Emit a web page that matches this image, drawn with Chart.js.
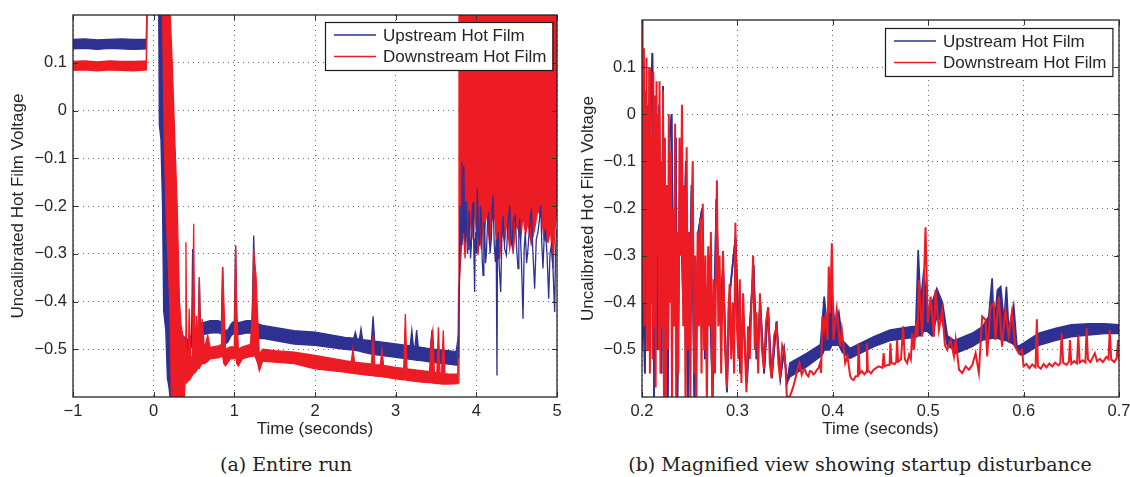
<!DOCTYPE html>
<html>
<head>
<meta charset="utf-8">
<script src="https://cdn.jsdelivr.net/npm/chart.js@4.4.0/dist/chart.umd.min.js"></script>
<style>
  body { margin: 0; background: #fff; width: 1130px; height: 477px; overflow: hidden; position: relative; }
  .panel { position: absolute; top: 0; height: 445px; }
  #left { left: 0; width: 570px; }
  #right { left: 570px; width: 560px; }
  .caption { position: absolute; top: 451px; font-family: "DejaVu Serif", serif; font-size: 19px; line-height: 26px; color: #222; white-space: nowrap; transform: translateX(-50%); }
</style>
</head>
<body>
<div class="panel" id="left"><canvas id="fullRun"></canvas></div>
<div class="panel" id="right"><canvas id="zoomRun"></canvas></div>
<div class="caption" style="left:286px">(a) Entire run</div>
<div class="caption" style="left:860px">(b) Magnified view showing startup disturbance</div>
<script>
const seriesNames = ["Upstream Hot Film", "Downstream Hot Film"];

// tick values
const fullXTicks = [-1, 0, 1, 2, 3, 4, 5];
const zoomXTicks = [0.2, 0.3, 0.4, 0.5, 0.6, 0.7];
const yTicks = [-0.5, -0.4, -0.3, -0.2, -0.1, 0, 0.1];

// (a) entire run - upstream, min/max envelope (null = same as min)
const fullUpT = [
  -1.00, -0.85, -0.70, -0.55, -0.40, -0.25, -0.09, -0.08, 0.06, 0.07,
  0.09, 0.11, 0.124, 0.15, 0.17, 0.19, 0.215, 0.25, 0.30, 0.35,
  0.42, 0.45, 0.47, 0.483, 0.495, 0.52, 0.55, 0.566, 0.58, 0.60,
  0.70, 0.80, 0.84, 0.855, 0.87, 0.88, 0.92, 0.96, 1.00, 1.016,
  1.03, 1.04, 1.15, 1.22, 1.24, 1.26, 1.27, 1.35, 1.74, 2.00,
  2.37, 2.48, 2.50, 2.52, 2.55, 2.57, 2.59, 2.70, 2.72, 2.74,
  3.00, 3.18, 3.20, 3.22, 3.24, 3.26, 3.28, 3.32, 3.43, 3.45,
  3.47, 3.65, 3.75, 3.77, 3.78
];
const fullUpLo = [
  0.129, 0.130, 0.128, 0.130, 0.129, 0.128, 0.129, 0.30, 0.30, -0.03,
  -0.06, -0.20, -0.42, -0.46, -0.56, -0.58, -0.62, -0.60, -0.57, -0.56,
  -0.50, -0.50, -0.495, -0.495, -0.49, -0.488, -0.485, -0.48, -0.478, -0.47,
  -0.466, -0.465, -0.468, -0.47, -0.485, -0.49, -0.485, -0.472, -0.466, -0.466,
  -0.47, -0.47, -0.466, -0.466, -0.47, -0.475, -0.478, -0.477, -0.489, -0.492,
  -0.50, -0.502, -0.503, -0.503, -0.504, -0.505, -0.506, -0.51, -0.51, -0.511,
  -0.517, -0.521, -0.521, -0.522, -0.522, -0.523, -0.523, -0.524, -0.527, -0.527,
  -0.528, -0.531, -0.533, -0.533, -0.53
];
const fullUpHi = [
  0.149, 0.150, 0.148, 0.149, 0.150, 0.149, 0.149, null, null, 0.30,
  0.30, 0.30, 0.25, 0.00, -0.20, -0.38, -0.45, -0.47, -0.47, -0.47,
  -0.48, -0.475, -0.47, -0.29, -0.465, -0.462, -0.46, -0.349, -0.452, -0.445,
  -0.44, -0.44, -0.443, -0.328, -0.45, -0.46, -0.46, -0.447, -0.441, -0.283,
  -0.44, -0.445, -0.44, -0.44, -0.262, -0.40, -0.445, -0.45, -0.461, -0.464,
  -0.475, -0.477, -0.464, -0.478, -0.479, -0.457, -0.48, -0.482, -0.431, -0.483,
  -0.489, -0.493, -0.46, -0.494, -0.494, -0.46, -0.495, -0.496, -0.499, -0.46,
  -0.50, -0.503, -0.505, -0.48, -0.505
];
// upstream after the flow breaks down (single noisy trace)
const fullUpTailT = [
  3.781, 3.790, 3.800, 3.810, 3.822, 3.828, 3.835, 3.841, 3.847, 3.855,
  3.864, 3.872, 3.880, 3.889, 3.897, 3.907, 3.917, 3.928, 3.938, 3.948,
  3.959, 3.969, 3.979, 3.986, 3.992, 4.002, 4.012, 4.026, 4.041, 4.051,
  4.062, 4.072, 4.083, 4.093, 4.103, 4.113, 4.124, 4.138, 4.153, 4.170,
  4.186, 4.196, 4.207, 4.222, 4.236, 4.246, 4.256, 4.262, 4.269, 4.285,
  4.302, 4.316, 4.331, 4.351, 4.372, 4.392, 4.413, 4.428, 4.442, 4.462,
  4.483, 4.500, 4.517, 4.527, 4.537, 4.558, 4.579, 4.593, 4.607, 4.623,
  4.640, 4.661, 4.682, 4.702, 4.723, 4.743, 4.764, 4.781, 4.798, 4.812,
  4.826, 4.840, 4.855, 4.876, 4.897, 4.913, 4.930, 4.950, 4.971, 4.982,
  4.992, 5.000
];
const fullUpTail = [
  -0.52, -0.37, -0.20, -0.28, -0.108, -0.22, -0.255, -0.16, -0.115, -0.25,
  -0.276, -0.19, -0.206, -0.30, -0.29, -0.21, -0.234, -0.31, -0.283, -0.22,
  -0.192, -0.29, -0.38, -0.27, -0.255, -0.30, -0.164, -0.26, -0.283, -0.20,
  -0.22, -0.31, -0.345, -0.25, -0.234, -0.32, -0.303, -0.24, -0.213, -0.30,
  -0.269, -0.21, -0.178, -0.28, -0.317, -0.27, -0.555, -0.29, -0.255, -0.33,
  -0.38, -0.27, -0.22, -0.29, -0.303, -0.24, -0.199, -0.27, -0.283, -0.23,
  -0.22, -0.29, -0.331, -0.26, -0.227, -0.31, -0.436, -0.29, -0.255, -0.32,
  -0.29, -0.24, -0.206, -0.30, -0.373, -0.27, -0.255, -0.23, -0.199, -0.28,
  -0.331, -0.27, -0.248, -0.30, -0.394, -0.30, -0.283, -0.33, -0.422, -0.30,
  -0.255, -0.248
];

// (a) entire run - downstream envelope
const fullDnT = [
  -1.00, -0.85, -0.70, -0.55, -0.40, -0.25, -0.09, -0.08, 0.10, 0.11,
  0.13, 0.15, 0.175, 0.20, 0.205, 0.22, 0.23, 0.25, 0.27, 0.29,
  0.32, 0.34, 0.36, 0.38, 0.39, 0.40, 0.41, 0.43, 0.44, 0.46,
  0.48, 0.496, 0.51, 0.53, 0.55, 0.566, 0.58, 0.60, 0.63, 0.67,
  0.70, 0.80, 0.84, 0.855, 0.87, 0.89, 0.95, 1.00, 1.016, 1.03,
  1.05, 1.10, 1.20, 1.23, 1.24, 1.27, 1.29, 1.31, 1.35, 1.50,
  1.74, 2.00, 2.37, 2.45, 2.47, 2.49, 2.70, 2.72, 2.74, 2.81,
  2.83, 2.85, 3.00, 3.10, 3.12, 3.14, 3.32, 3.42, 3.44, 3.46,
  3.48, 3.51, 3.53, 3.55, 3.57, 3.59, 3.61, 3.65, 3.77, 3.78,
  3.785, 3.814, 3.84, 3.86, 3.876, 3.90, 3.938, 3.96, 3.979, 4.00,
  4.021, 4.04, 4.062, 4.08, 4.103, 4.13, 4.165, 4.19, 4.227, 4.26,
  4.289, 4.32, 4.351, 4.38, 4.413, 4.44, 4.455, 4.49, 4.517, 4.55,
  4.579, 4.61, 4.64, 4.68, 4.723, 4.76, 4.806, 4.84, 4.888, 4.92,
  4.95, 4.97, 4.992, 5.00
];
const fullDnLo = [
  0.084, 0.085, 0.083, 0.085, 0.084, 0.083, 0.085, 0.30, 0.30, 0.20,
  -0.05, -0.19, -0.30, -0.40, -0.45, -0.60, -0.62, -0.62, -0.62, -0.62,
  -0.62, -0.62, -0.62, -0.60, -0.57, -0.56, -0.57, -0.565, -0.565, -0.56,
  -0.555, -0.55, -0.55, -0.545, -0.54, -0.54, -0.535, -0.53, -0.53, -0.525,
  -0.52, -0.518, -0.515, -0.515, -0.53, -0.535, -0.52, -0.52, -0.515, -0.53,
  -0.535, -0.52, -0.515, -0.515, -0.51, -0.52, -0.53, -0.545, -0.525, -0.527,
  -0.53, -0.541, -0.548, -0.55, -0.55, -0.551, -0.555, -0.555, -0.556, -0.557,
  -0.557, -0.558, -0.562, -0.564, -0.564, -0.565, -0.569, -0.57, -0.57, -0.571,
  -0.571, -0.572, -0.572, -0.572, -0.573, -0.573, -0.573, -0.573, -0.572, -0.57,
  -0.37, -0.29, -0.25, -0.31, -0.248, -0.28, -0.22, -0.27, -0.192, -0.26,
  -0.303, -0.25, -0.29, -0.24, -0.248, -0.21, -0.283, -0.23, -0.22, -0.31,
  -0.31, -0.25, -0.276, -0.23, -0.29, -0.26, -0.30, -0.24, -0.248, -0.27,
  -0.22, -0.26, -0.234, -0.28, -0.248, -0.21, -0.22, -0.27, -0.276, -0.25,
  -0.331, -0.26, -0.22, -0.22
];
const fullDnHi = [
  0.103, 0.104, 0.102, 0.104, 0.103, 0.103, 0.104, null, null, 0.30,
  0.30, 0.30, 0.30, 0.30, 0.20, 0.14, 0.10, 0.00, -0.10, -0.19,
  -0.40, -0.45, -0.47, -0.48, -0.50, -0.276, -0.50, -0.52, -0.415, -0.52,
  -0.515, -0.237, -0.51, -0.43, -0.50, -0.35, -0.49, -0.436, -0.50, -0.471,
  -0.496, -0.493, -0.49, -0.328, -0.40, -0.50, -0.495, -0.495, -0.283, -0.42,
  -0.50, -0.495, -0.49, -0.40, -0.29, -0.35, -0.44, -0.51, -0.50, -0.503,
  -0.506, -0.513, -0.524, -0.526, -0.50, -0.527, -0.531, -0.47, -0.532, -0.533,
  -0.50, -0.534, -0.538, -0.54, -0.426, -0.541, -0.545, -0.547, -0.48, -0.46,
  -0.548, -0.549, -0.454, -0.55, -0.55, -0.46, -0.551, -0.552, -0.552, -0.37,
  0.30, 0.30, 0.30, 0.30, 0.30, 0.30, 0.30, 0.30, 0.30, 0.30,
  0.30, 0.30, 0.30, 0.30, 0.30, 0.30, 0.30, 0.30, 0.30, 0.30,
  0.30, 0.30, 0.30, 0.30, 0.30, 0.30, 0.30, 0.30, 0.30, 0.30,
  0.30, 0.30, 0.30, 0.30, 0.30, 0.30, 0.30, 0.30, 0.30, 0.30,
  0.30, 0.30, 0.30, 0.30
];

// (b) magnified view - upstream envelope (null = same as min)
const zoomUpT = [
  0.2000, 0.2015, 0.2030, 0.2050, 0.2070, 0.2090, 0.2109, 0.2127, 0.2145, 0.2160,
  0.2180, 0.2205, 0.2220, 0.2236, 0.2255, 0.2270, 0.2290, 0.2310, 0.2330, 0.2355,
  0.2370, 0.2400, 0.2430, 0.2460, 0.2480, 0.2520, 0.2550, 0.2590, 0.2630, 0.2660,
  0.2700, 0.2740, 0.2780, 0.2810, 0.2850, 0.2890, 0.2920, 0.2980, 0.3030, 0.3060,
  0.3100, 0.3130, 0.3170, 0.3200, 0.3240, 0.3280, 0.3320, 0.3360, 0.3410, 0.3450,
  0.3490, 0.3520, 0.3550, 0.3730, 0.3870, 0.3890, 0.3910, 0.3940, 0.3965, 0.3990,
  0.4020, 0.4063, 0.4100, 0.4180, 0.4430, 0.4600, 0.4780, 0.4870, 0.4895, 0.4920,
  0.4955, 0.4990, 0.5040, 0.5090, 0.5150, 0.5200, 0.5270, 0.5290, 0.5460, 0.5570,
  0.5635, 0.5670, 0.5690, 0.5726, 0.5760, 0.5795, 0.5820, 0.5844, 0.5896, 0.5930,
  0.5965, 0.6000, 0.6160, 0.6330, 0.6500, 0.6680, 0.6850, 0.7000
];
const zoomUpLo = [
  -0.50, -0.38, -0.55, -0.20, -0.45, 0.00, 0.13, -0.60, -0.10, -0.50,
  0.02, -0.55, 0.06, -0.62, -0.30, -0.62, -0.05, 0.00, -0.45, -0.05,
  -0.62, -0.10, -0.40, -0.10, -0.62, -0.15, -0.62, -0.25, -0.20, -0.52,
  -0.30, -0.60, -0.18, -0.44, -0.32, -0.59, -0.38, -0.26, -0.55, -0.42,
  -0.57, -0.45, -0.32, -0.52, -0.40, -0.55, -0.41, -0.56, -0.44, -0.56,
  -0.50, -0.57, -0.557, -0.535, -0.514, -0.510, -0.500, -0.500, -0.500, -0.490,
  -0.490, -0.490, -0.505, -0.518, -0.493, -0.480, -0.475, -0.473, -0.470, -0.470,
  -0.460, -0.460, -0.470, -0.430, -0.440, -0.490, -0.500, -0.507, -0.493, -0.479,
  -0.477, -0.475, -0.475, -0.475, -0.478, -0.480, -0.480, -0.482, -0.488, -0.500,
  -0.510, -0.510, -0.490, -0.480, -0.472, -0.468, -0.465, -0.465
];
const zoomUpHi = [
  null, null, null, null, null, null, null, null, null, null,
  null, null, null, null, null, null, null, null, null, null,
  null, null, null, null, null, null, null, null, null, null,
  null, null, null, null, null, null, null, null, null, null,
  null, null, null, null, null, null, null, null, null, null,
  null, null, -0.528, -0.507, -0.489, -0.440, -0.387, -0.450, -0.405, -0.370,
  -0.450, -0.420, -0.480, -0.497, -0.472, -0.458, -0.452, -0.450, -0.288, -0.400,
  -0.330, -0.420, -0.400, -0.370, -0.400, -0.470, -0.480, -0.479, -0.465, -0.451,
  -0.429, -0.348, -0.458, -0.373, -0.366, -0.440, -0.366, -0.458, -0.405, -0.493,
  -0.490, -0.486, -0.465, -0.455, -0.447, -0.445, -0.445, -0.447
];

// (b) magnified view - downstream trace
const zoomDnT = [
  0.2000, 0.2006, 0.2012, 0.2020, 0.2027, 0.2034, 0.2040, 0.2047, 0.2054, 0.2061,
  0.2068, 0.2075, 0.2083, 0.2090, 0.2097, 0.2104, 0.2111, 0.2119, 0.2127, 0.2135,
  0.2143, 0.2152, 0.2160, 0.2168, 0.2176, 0.2184, 0.2193, 0.2202, 0.2211, 0.2220,
  0.2230, 0.2240, 0.2250, 0.2260, 0.2270, 0.2281, 0.2292, 0.2303, 0.2314, 0.2325,
  0.2336, 0.2347, 0.2358, 0.2370, 0.2381, 0.2393, 0.2405, 0.2419, 0.2432, 0.2444,
  0.2456, 0.2468, 0.2481, 0.2494, 0.2507, 0.2520, 0.2532, 0.2545, 0.2557, 0.2570,
  0.2583, 0.2597, 0.2610, 0.2624, 0.2637, 0.2651, 0.2665, 0.2680, 0.2694, 0.2708,
  0.2722, 0.2737, 0.2751, 0.2765, 0.2785, 0.2800, 0.2813, 0.2830, 0.2849, 0.2870,
  0.2891, 0.2905, 0.2919, 0.2935, 0.2950, 0.2965, 0.2979, 0.2995, 0.3010, 0.3025,
  0.3042, 0.3060, 0.3078, 0.3095, 0.3112, 0.3130, 0.3148, 0.3165, 0.3182, 0.3200,
  0.3218, 0.3236, 0.3257, 0.3278, 0.3300, 0.3324, 0.3340, 0.3359, 0.3385, 0.3412,
  0.3430, 0.3447, 0.3470, 0.3489, 0.3505, 0.3518, 0.3550, 0.3586, 0.3639, 0.3650,
  0.3674, 0.3690, 0.3709, 0.3725, 0.3744, 0.3760, 0.3779, 0.3795, 0.3814, 0.3830,
  0.3849, 0.3867, 0.3877, 0.3891, 0.3909, 0.3926, 0.3944, 0.3958, 0.3972, 0.3990,
  0.4007, 0.4042, 0.4077, 0.4095, 0.4130, 0.4154, 0.4182, 0.4200, 0.4218, 0.4240,
  0.4262, 0.4270, 0.4282, 0.4305, 0.4330, 0.4350, 0.4358, 0.4368, 0.4400, 0.4428,
  0.4455, 0.4481, 0.4520, 0.4533, 0.4545, 0.4575, 0.4595, 0.4604, 0.4615, 0.4650,
  0.4665, 0.4674, 0.4685, 0.4715, 0.4737, 0.4755, 0.4779, 0.4800, 0.4818, 0.4832,
  0.4849, 0.4874, 0.4888, 0.4902, 0.4937, 0.4972, 0.4996, 0.5025, 0.5060, 0.5077,
  0.5112, 0.5147, 0.5175, 0.5200, 0.5235, 0.5270, 0.5288, 0.5323, 0.5358, 0.5392,
  0.5427, 0.5462, 0.5497, 0.5531, 0.5566, 0.5601, 0.5618, 0.5653, 0.5688, 0.5705,
  0.5740, 0.5774, 0.5809, 0.5844, 0.5878, 0.5913, 0.5948, 0.5983, 0.6000, 0.6030,
  0.6060, 0.6090, 0.6125, 0.6139, 0.6150, 0.6180, 0.6210, 0.6240, 0.6270, 0.6300,
  0.6330, 0.6365, 0.6385, 0.6399, 0.6415, 0.6450, 0.6475, 0.6486, 0.6500, 0.6530,
  0.6560, 0.6573, 0.6588, 0.6620, 0.6648, 0.6660, 0.6675, 0.6700, 0.6720, 0.6747,
  0.6770, 0.6800, 0.6830, 0.6868, 0.6890, 0.6903, 0.6918, 0.6950, 0.6975, 0.6990,
  0.7000
];
const zoomDn = [
  -0.40, 0.20, -0.30, 0.14, -0.45, 0.05, -0.25, 0.12, -0.50, 0.02,
  -0.35, 0.10, -0.55, 0.09, -0.40, -0.05, -0.52, 0.09, -0.45, 0.04,
  -0.58, 0.07, -0.30, 0.00, -0.50, 0.07, -0.55, -0.10, -0.45, 0.05,
  -0.60, -0.05, -0.62, -0.15, -0.50, 0.00, -0.40, -0.08, -0.62, -0.20,
  -0.45, -0.02, -0.62, -0.25, -0.55, -0.05, -0.30, 0.02, -0.45, -0.15,
  -0.62, -0.07, -0.50, -0.25, -0.62, -0.20, -0.10, -0.55, -0.30, -0.62,
  -0.25, -0.45, -0.22, -0.55, -0.19, -0.50, -0.30, -0.62, -0.28, -0.45,
  -0.25, -0.60, -0.35, -0.55, -0.14, -0.45, -0.30, -0.55, -0.29, -0.50,
  -0.58, -0.42, -0.36, -0.52, -0.40, -0.55, -0.23, -0.45, -0.52, -0.35,
  -0.57, -0.38, -0.50, -0.59, -0.45, -0.52, -0.40, -0.30, -0.50, -0.42,
  -0.55, -0.38, -0.50, -0.54, -0.44, -0.41, -0.53, -0.56, -0.47, -0.45,
  -0.53, -0.56, -0.49, -0.50, -0.54, -0.60, -0.599, -0.578, -0.535, -0.528,
  -0.553, -0.545, -0.542, -0.552, -0.556, -0.545, -0.546, -0.552, -0.549, -0.543,
  -0.539, -0.528, -0.549, -0.429, -0.458, -0.422, -0.479, -0.323, -0.422, -0.274,
  -0.479, -0.415, -0.493, -0.458, -0.528, -0.514, -0.556, -0.562, -0.564, -0.556,
  -0.556, -0.486, -0.550, -0.545, -0.552, -0.547, -0.486, -0.543, -0.550, -0.542,
  -0.538, -0.535, -0.538, -0.507, -0.535, -0.532, -0.532, -0.486, -0.528, -0.530,
  -0.525, -0.479, -0.525, -0.520, -0.450, -0.520, -0.528, -0.510, -0.520, -0.465,
  -0.500, -0.450, -0.472, -0.352, -0.472, -0.240, -0.443, -0.387, -0.472, -0.373,
  -0.458, -0.415, -0.490, -0.500, -0.479, -0.514, -0.479, -0.542, -0.549, -0.535,
  -0.542, -0.532, -0.507, -0.549, -0.429, -0.436, -0.514, -0.408, -0.401, -0.479,
  -0.387, -0.493, -0.415, -0.472, -0.419, -0.493, -0.507, -0.500, -0.535, -0.530,
  -0.539, -0.531, -0.537, -0.435, -0.535, -0.540, -0.530, -0.537, -0.529, -0.535,
  -0.527, -0.533, -0.528, -0.465, -0.527, -0.532, -0.525, -0.479, -0.530, -0.524,
  -0.529, -0.468, -0.527, -0.522, -0.527, -0.454, -0.520, -0.526, -0.518, -0.507,
  -0.524, -0.519, -0.526, -0.515, -0.520, -0.458, -0.520, -0.526, -0.518, -0.479,
  -0.521
];

const upColor = "#2e3192";
const dnColor = "#ed1c24";
const font = '"Liberation Sans", Arial, Helvetica, sans-serif';
const textColor = "#262626";

function points(t, vals, fallback) {
  return t.map((x, i) => ({ x: x, y: vals[i] == null ? fallback[i] : vals[i] }));
}

function lineSet(t, vals, color, width) {
  return { data: points(t, vals, vals), borderColor: color, borderWidth: width, fill: false };
}

// two lines (max, min) with the space between them filled in the series colour
function bandSets(t, lo, hi, color, width) {
  return [
    { data: points(t, hi, lo), borderColor: color, backgroundColor: color, borderWidth: width, fill: "+1" },
    { data: points(t, lo, lo), borderColor: color, borderWidth: width, fill: false }
  ];
}

function fmt(v) {
  const r = Math.round(v * 10) / 10;
  return (r === 0 ? "0" : String(r)).replace("-", "\u2212");
}

// matlab-like frame: box, inward ticks and a boxed legend in the top right
const matlabFrame = {
  id: "matlabFrame",
  afterDatasetsDraw(chart, args, opts) {
    const { ctx, chartArea: a, scales } = chart;
    ctx.save();
    ctx.strokeStyle = "#333";
    ctx.lineWidth = 1;
    ctx.beginPath();
    scales.x.ticks.forEach(tk => {
      const px = Math.round(scales.x.getPixelForValue(tk.value)) + 0.5;
      ctx.moveTo(px, a.bottom); ctx.lineTo(px, a.bottom - 5);
      ctx.moveTo(px, a.top); ctx.lineTo(px, a.top + 5);
    });
    scales.y.ticks.forEach(tk => {
      const py = Math.round(scales.y.getPixelForValue(tk.value)) + 0.5;
      ctx.moveTo(a.left, py); ctx.lineTo(a.left + 5, py);
      ctx.moveTo(a.right, py); ctx.lineTo(a.right - 5, py);
    });
    ctx.stroke();
    ctx.lineWidth = 1.3;
    ctx.strokeStyle = "#262626";
    ctx.strokeRect(a.left, a.top, a.right - a.left, a.bottom - a.top);

    ctx.font = "17px " + font;
    const items = [
      { text: seriesNames[0], color: upColor },
      { text: seriesNames[1], color: dnColor }
    ];
    const tw = Math.max(...items.map(it => ctx.measureText(it.text).width));
    const w = 58 + tw + 6, h = 48;
    const x = Math.round(a.right - opts.right - w), y = Math.round(a.top + opts.top);
    ctx.fillStyle = "#fff";
    ctx.fillRect(x, y, w, h);
    ctx.lineWidth = 1.2;
    ctx.strokeStyle = "#1a1a1a";
    ctx.strokeRect(x + 0.5, y + 0.5, w, h);
    items.forEach((it, i) => {
      const cy = y + 13 + i * 21.5;
      ctx.strokeStyle = it.color;
      ctx.lineWidth = 1.5;
      ctx.beginPath(); ctx.moveTo(x + 9, cy); ctx.lineTo(x + 51, cy); ctx.stroke();
      ctx.fillStyle = textColor;
      ctx.textBaseline = "middle";
      ctx.fillText(it.text, x + 58, cy + 1);
    });
    ctx.restore();
  }
};

function makeChart(id, datasets, xMin, xMax, xTicks, yWidth, pad, legendPos) {
  const tickFont = { family: font, size: 16.5 };
  const titleFont = { family: font, size: 17 };
  return new Chart(document.getElementById(id), {
    type: "line",
    data: { datasets: datasets },
    plugins: [matlabFrame],
    options: {
      responsive: true,
      maintainAspectRatio: false,
      animation: false,
      layout: { padding: pad },
      elements: { point: { radius: 0 }, line: { tension: 0 } },
      plugins: { legend: { display: false }, tooltip: { enabled: false }, matlabFrame: legendPos },
      scales: {
        x: {
          type: "linear", min: xMin, max: xMax,
          afterBuildTicks: s => { s.ticks = xTicks.map(v => ({ value: v })); },
          afterFit: s => { s.height = 48; s.paddingLeft = 0; s.paddingRight = 0; },
          ticks: { color: textColor, font: tickFont, padding: 5, maxRotation: 0, autoSkip: false, callback: v => fmt(v) },
          grid: { color: "#555", lineWidth: 0.9, drawTicks: false },
          border: { display: false, dash: [1, 4] },
          title: { display: true, text: "Time (seconds)", color: textColor, font: titleFont, padding: { top: 0, bottom: 5 } }
        },
        y: {
          type: "linear", min: -0.6, max: 0.2,
          afterBuildTicks: s => { s.ticks = yTicks.map(v => ({ value: v })); },
          afterFit: s => { s.width = yWidth; s.paddingTop = 0; s.paddingBottom = 0; },
          ticks: { color: textColor, font: tickFont, padding: 6, autoSkip: false, callback: v => fmt(v) },
          grid: { color: "#555", lineWidth: 0.9, drawTicks: false },
          border: { display: false, dash: [1, 4] },
          title: { display: true, text: "Uncalibrated Hot Film Voltage", color: textColor, font: titleFont, padding: { top: 8, bottom: 0 } }
        }
      }
    }
  });
}

makeChart("fullRun", [
  lineSet(fullUpTailT, fullUpTail, upColor, 1.3),
  ...bandSets(fullDnT, fullDnLo, fullDnHi, dnColor, 1.3),
  ...bandSets(fullUpT, fullUpLo, fullUpHi, upColor, 1.3)
], -1, 5, fullXTicks, 73, { left: 0, right: 13, top: 15, bottom: 0 }, { right: 5, top: 7 });

makeChart("zoomRun", [
  lineSet(zoomDnT, zoomDn, dnColor, 2),
  ...bandSets(zoomUpT, zoomUpLo, zoomUpHi, upColor, 1.7)
], 0.2, 0.7, zoomXTicks, 72, { left: 0, right: 11, top: 20, bottom: 0 }, { right: 7, top: 8 });
</script>
</body>
</html>
